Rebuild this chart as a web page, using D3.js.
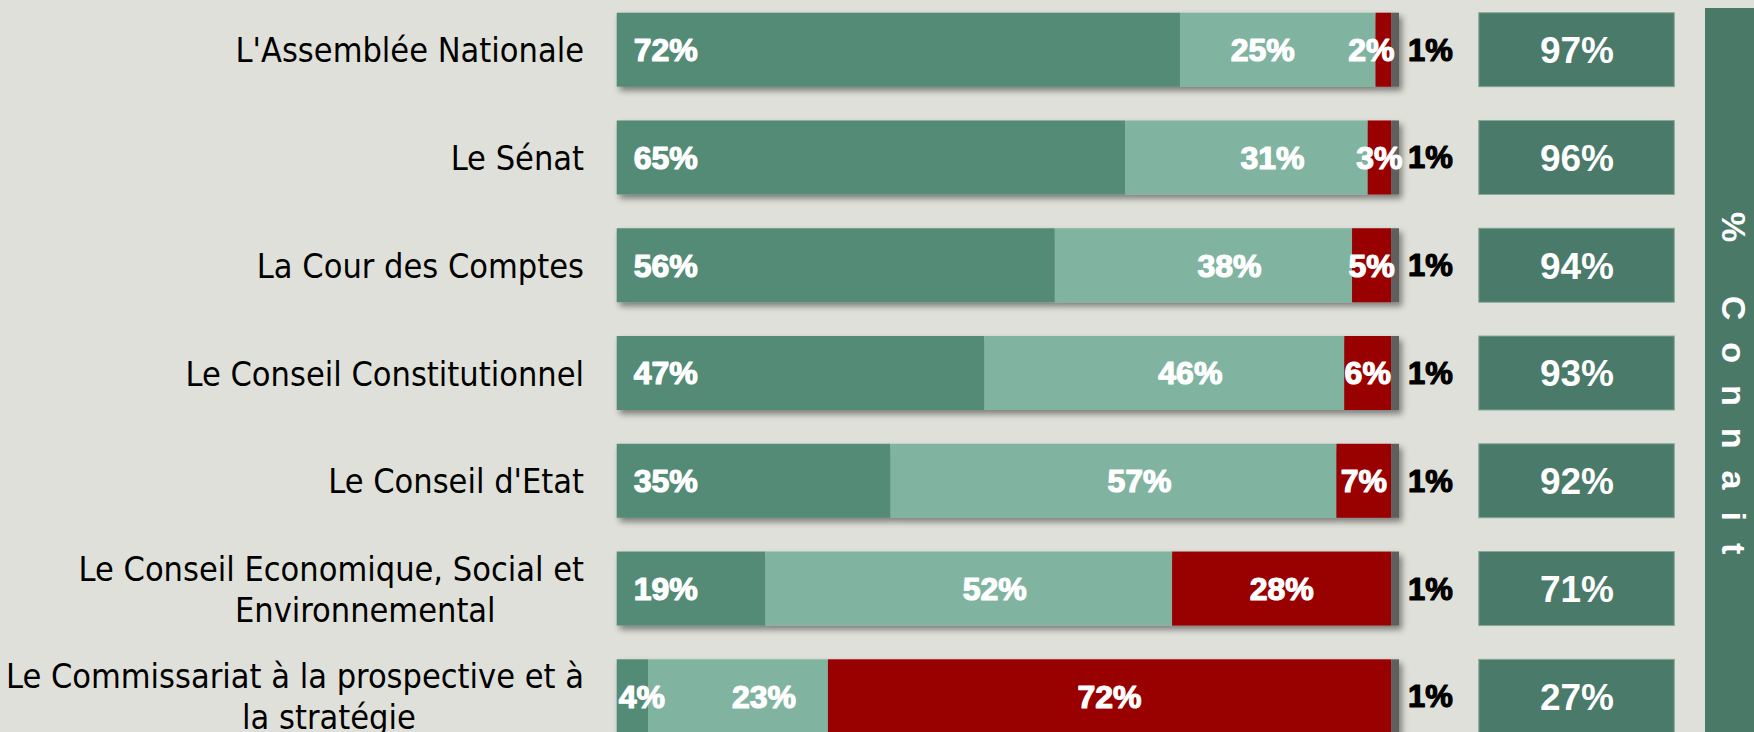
<!DOCTYPE html>
<html><head><meta charset="utf-8">
<script src="https://cdn.jsdelivr.net/npm/d3@7"></script>
<style>html,body{margin:0;padding:0;background:#E0E0DA;overflow:hidden}</style>
</head><body>
<svg id="chart" width="1754" height="732"></svg>
<script>
// ---- data ----
const categories = [
  "L'Assemblée Nationale",
  "Le Sénat",
  "La Cour des Comptes",
  "Le Conseil Constitutionnel",
  "Le Conseil d'Etat",
  "Le Conseil Economique, Social et\nEnvironnemental",
  "Le Commissariat à la prospective et à\nla stratégie"
];
const connaitBien   = [72, 65, 56, 47, 35, 19, 4];
const connaitDeNom  = [25, 31, 38, 46, 57, 52, 23];
const neConnaitPas  = [2, 3, 5, 6, 7, 28, 72];
const nsp           = [1, 1, 1, 1, 1, 1, 1];
const connaitTotal  = [97, 96, 94, 93, 92, 71, 27];
const sideTitle = "% Connait";

// ---- styles ----
const C = {
  bg: "#E0E0DA", dark: "#538B76", light: "#80B4A1", red: "#990000",
  gray: "#5E5E5E", box: "#4A7A69", boxStroke: "#86A898", panel: "#4A7968"
};

const svg = d3.select("#chart");
svg.append("rect").attr("width", 1754).attr("height", 732).attr("fill", C.bg);

const defs = svg.append("defs");
const f = defs.append("filter").attr("id", "shadow")
  .attr("x", "-5%").attr("y", "-20%").attr("width", "115%").attr("height", "160%");
f.append("feDropShadow").attr("dx", 3).attr("dy", 4).attr("stdDeviation", 3)
  .attr("flood-color", "#000").attr("flood-opacity", 0.45);

const x = d3.scaleLinear().domain([0, 100]).range([616.7, 1399]);
const y = d3.scaleBand().domain(categories).range([12.7, 733.3]).paddingInner(0.3134).paddingOuter(0);
const bw = y.bandwidth();

const rows = categories.map((c, i) => {
  const vals = [connaitBien[i], connaitDeNom[i], neConnaitPas[i], nsp[i]];
  let acc = 0;
  const segs = vals.map((v, k) => { const s = {k, v, x0: acc, x1: acc + v}; acc += v; return s; });
  return {c, i, segs, total: connaitTotal[i]};
});
const segColors = [C.dark, C.light, C.red, C.gray];

// bars
const rowG = svg.selectAll("g.row").data(rows).join("g").attr("class", "row");
rowG.append("g").attr("filter", "url(#shadow)")
  .selectAll("rect").data(d => d.segs.map(s => ({...s, c: d.c}))).join("rect")
  .attr("x", s => x(s.x0)).attr("y", s => y(s.c))
  .attr("width", s => x(s.x1) - x(s.x0)).attr("height", bw)
  .attr("fill", s => segColors[s.k]);

const valFont = "'Liberation Sans', Arial, sans-serif";
function cy(d) { return y(d.c) + bw / 2; }

rowG.each(function(d) {
  const g = d3.select(this);
  const yc = cy(d);
  const s0 = d.segs[0], s1 = d.segs[1], s2 = d.segs[2], s3 = d.segs[3];
  const mk = (txt, color, size) => g.append("text").text(txt)
    .attr("font-family", valFont).attr("font-weight", "bold").attr("font-size", size || 32)
    .attr("fill", color).attr("stroke", color).attr("stroke-width", 1.2)
    .attr("stroke-linejoin", "round")
    .attr("y", yc + 11.3);
  // dark (inside base)
  const t0 = mk(s0.v + "%", "#fff");
  const w0 = t0.node().getComputedTextLength();
  const segW0 = x(s0.x1) - x(s0.x0);
  t0.attr("x", x(s0.x0) + (segW0 >= w0 + 34 ? 17 : 2));
  // light
  const redLabelW = 46;
  let lx = x((s1.x0 + s1.x1) / 2) + 26;
  // keep clear of the red label when the red segment is tiny
  if (s2.v < 3) lx = x((s1.x0 + s1.x1) / 2) - 15;
  mk(s1.v + "%", "#fff").attr("text-anchor", "middle").attr("x", lx);
  // red
  mk(s2.v + "%", "#fff").attr("text-anchor", "middle")
    .attr("x", x((s2.x0 + s2.x1) / 2) - (s2.v < 3 ? 12 : 0));
  // nsp outside
  mk(s3.v + "%", "#000", 31).attr("x", x(s3.x1) + 9).attr("y", yc + 11);
});

// total boxes
rowG.append("rect")
  .attr("x", 1478.8).attr("y", d => y(d.c)).attr("width", 195.5).attr("height", bw)
  .attr("fill", C.box).attr("stroke", C.boxStroke).attr("stroke-width", 1);
rowG.append("text").text(d => d.total + "%")
  .attr("x", 1577).attr("y", d => cy(d) + 13.3).attr("text-anchor", "middle")
  .attr("font-family", valFont).attr("font-weight", "bold").attr("font-size", 37)
  .attr("fill", "#fff");

// category labels
const labFont = "'DejaVu Sans Condensed', 'DejaVu Sans', sans-serif";
rowG.each(function(d) {
  const g = d3.select(this);
  const lines = d.c.split("\n");
  const yc = cy(d);
  const lh = 41;
  if (lines.length === 1) {
    g.append("text").text(lines[0]).attr("text-anchor", "end")
      .attr("x", 584).attr("y", yc + 12.5)
      .attr("font-family", labFont).attr("font-size", 34).attr("fill", "#000");
  } else {
    const t1 = g.append("text").text(lines[0]).attr("text-anchor", "end")
      .attr("x", 584).attr("y", yc - lh / 2 + 12.5)
      .attr("font-family", labFont).attr("font-size", 34).attr("fill", "#000");
    const w1 = t1.node().getComputedTextLength();
    g.append("text").text(lines[1]).attr("text-anchor", "middle")
      .attr("x", 584 - w1 / 2 + 34).attr("y", yc + lh / 2 + 12.5)
      .attr("font-family", labFont).attr("font-size", 34).attr("fill", "#000");
  }
});

// side panel
svg.append("rect").attr("x", 1705).attr("y", 8).attr("width", 60).attr("height", 730).attr("fill", C.panel);
svg.append("text").text(sideTitle)
  .attr("transform", "translate(1722,212) rotate(90)")
  .attr("font-family", valFont).attr("font-weight", "bold").attr("font-size", 34)
  .attr("letter-spacing", 22)
  .attr("fill", "#fff");
</script>
</body></html>
